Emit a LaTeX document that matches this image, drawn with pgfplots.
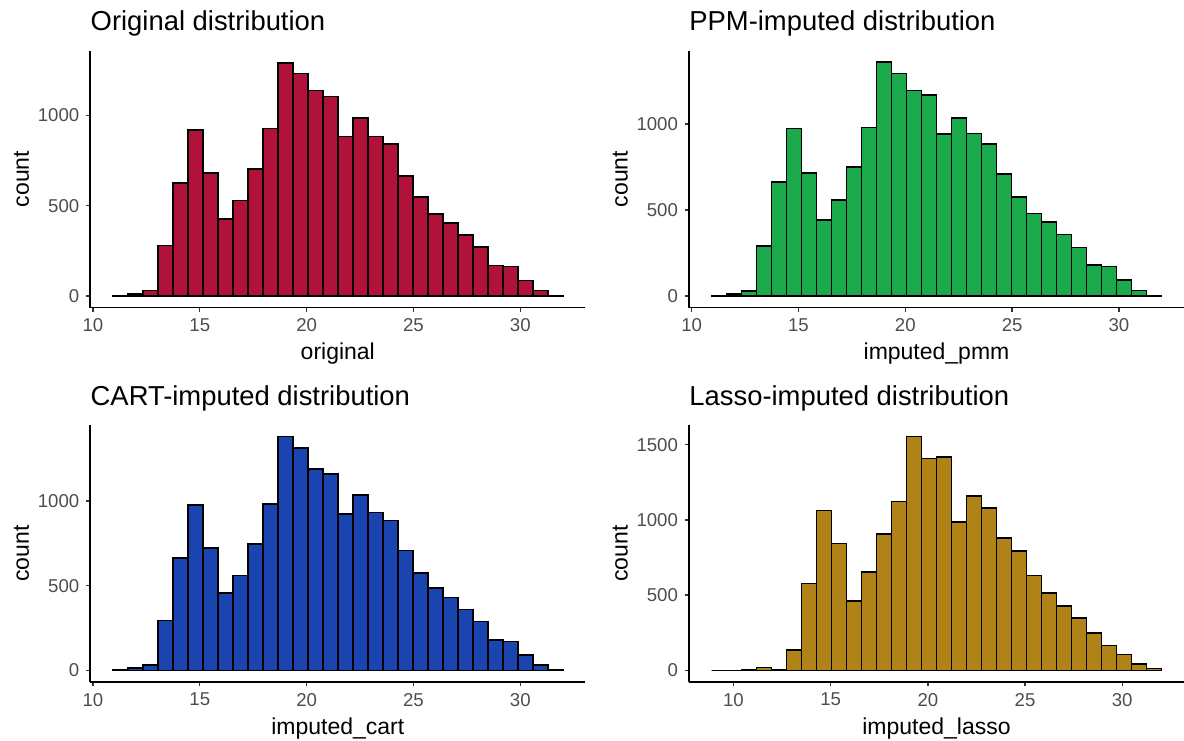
\documentclass[border=0pt]{standalone}
\usepackage{fontspec}
\setmainfont{Liberation Sans}
\usepackage{pgfplots}
\pgfplotsset{compat=1.18}

\definecolor{origred}{HTML}{B0123A}
\definecolor{pmmgreen}{HTML}{1AAA4B}
\definecolor{cartblue}{HTML}{1A45B0}
\definecolor{lassogold}{HTML}{B08318}
\definecolor{tickgray}{HTML}{4D4D4D}

% ggplot theme_classic look
\pgfplotsset{histpanel/.style={
    scale only axis, width=247.5pt, height=128.5pt, anchor=south west,
    axis x line*=bottom, axis y line*=left,
    axis line style={-, black, line width=0.9pt},
    tick align=outside, major tick length=2pt,
    every tick/.style={black!80, line width=0.7pt},
    xtick={10,15,20,25,30},
    ticklabel style={font=\fontsize{9.3}{11}\selectfont, text=tickgray},
    /pgf/number format/assume math mode=true,
    /pgf/number format/1000 sep={},
    xlabel style={font=\fontsize{11.5}{13}\selectfont, at={(axis description cs:0.5,-0.18)}, anchor=center},
    ylabel style={font=\fontsize{11.5}{13}\selectfont, at={(axis description cs:-0.139,0.5)}, anchor=center},
    title style={font=\fontsize{13.7}{16}\selectfont, at={(axis description cs:0,1)}, anchor=base west, yshift=4pt, inner sep=0pt},
    ylabel=count,
}}

\begin{document}
\begin{tikzpicture}
\path[use as bounding box] (0,0) rectangle (592pt,370pt);

% Original
\begin{axis}[histpanel, at={(45.15pt,216.2pt)},
    xmin=9.877, xmax=33.043, ymin=-65, ymax=1360, ytick={0,500,1000},
    title={Original distribution}, xlabel={original}]
\addplot[ybar interval, fill=origred, draw=black, line width=0.8pt] table {
x y
10.930 2
11.632 10
12.334 30
13.036 279
13.738 627
14.440 919
15.142 681
15.844 426
16.546 528
17.248 705
17.950 928
18.652 1290
19.354 1233
20.056 1139
20.758 1106
21.460 884
22.162 985
22.864 884
23.566 842
24.268 666
24.970 547
25.672 453
26.374 405
27.076 338
27.778 272
28.480 169
29.182 163
29.884 86
30.586 29
31.288 2
31.990 0
};
\end{axis}

% PMM
\begin{axis}[histpanel, at={(344.5pt,216.2pt)},
    xmin=9.877, xmax=33.043, ymin=-68, ymax=1426, ytick={0,500,1000},
    title={PPM-imputed distribution}, xlabel={imputed\_pmm}]
\addplot[ybar interval, fill=pmmgreen, draw=black, line width=0.8pt] table {
x y
10.930 2
11.632 10
12.334 30
13.036 290
13.738 661
14.440 973
15.142 716
15.844 441
16.546 557
17.248 750
17.950 979
18.652 1358
19.354 1294
20.056 1195
20.758 1168
21.460 942
22.162 1035
22.864 944
23.566 884
24.268 708
24.970 574
25.672 478
26.374 429
27.076 356
27.778 282
28.480 178
29.182 172
29.884 93
30.586 31
31.288 2
31.990 0
};
\end{axis}

% CART
\begin{axis}[histpanel, at={(45.15pt,29pt)},
    xmin=9.877, xmax=33.043, ymin=-69, ymax=1449, ytick={0,500,1000},
    title={CART-imputed distribution}, xlabel={imputed\_cart}]
\addplot[ybar interval, fill=cartblue, draw=black, line width=0.8pt] table {
x y
10.930 1
11.632 12
12.334 31
13.036 294
13.738 663
14.440 975
15.142 724
15.844 457
16.546 561
17.248 747
17.950 982
18.652 1380
19.354 1314
20.056 1188
20.758 1161
21.460 924
22.162 1037
22.864 933
23.566 884
24.268 708
24.970 576
25.672 488
26.374 429
27.076 359
27.778 288
28.480 178
29.182 171
29.884 92
30.586 31
31.288 4
31.990 0
};
\end{axis}

% Lasso
\begin{axis}[histpanel, at={(344.5pt,29pt)},
    xmin=7.7125, xmax=33.1775, ymin=-77.65, ymax=1630.65, ytick={0,500,1000,1500},
    title={Lasso-imputed distribution}, xlabel={imputed\_lasso}]
\addplot[ybar interval, fill=lassogold, draw=black, line width=0.8pt] table {
x y
8.870 0
9.642 0
10.413 4
11.185 18
11.957 6
12.728 137
13.500 577
14.272 1062
15.043 842
15.815 462
16.587 654
17.358 906
18.130 1122
18.902 1553
19.673 1409
20.445 1416
21.217 987
21.988 1158
22.760 1080
23.532 881
24.303 795
25.075 630
25.847 515
26.618 426
27.390 347
28.162 247
28.933 166
29.705 106
30.477 44
31.248 13
32.020 0
};
\end{axis}
\end{tikzpicture}
\end{document}
